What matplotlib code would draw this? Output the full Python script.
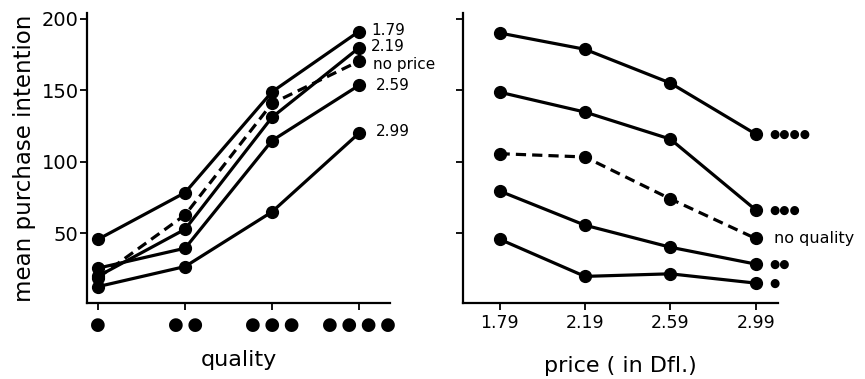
import matplotlib
matplotlib.use('Agg')
import matplotlib.pyplot as plt

# x categories
quality_levels = [1, 2, 3, 4]
quality_ticklabels = ['\u25cf', '\u25cf\u2009\u25cf', '\u25cf\u2009\u25cf\u2009\u25cf',
                      '\u25cf\u2009\u25cf\u2009\u25cf\u2009\u25cf']
price_levels = [1.79, 2.19, 2.59, 2.99]
price_ticklabels = ['1.79', '2.19', '2.59', '2.99']

# left panel: mean purchase intention vs quality, one line per price
price_179 = [45.8, 78.4, 148.8, 191.0]
price_219 = [20.0, 52.8, 131.0, 179.5]
price_none = [19.0, 62.8, 140.7, 170.2]
price_259 = [25.6, 39.5, 114.7, 153.3]
price_299 = [12.7, 26.7, 64.9, 119.8]
price_names = ['1.79', '2.19', 'no price', '2.59', '2.99']

# right panel: mean purchase intention vs price, one line per quality
qual_4 = [190.0, 178.6, 155.0, 119.3]
qual_3 = [148.6, 134.7, 115.8, 66.3]
qual_none = [105.6, 103.3, 74.0, 46.3]
qual_2 = [79.5, 55.6, 40.2, 28.4]
qual_1 = [45.8, 19.8, 21.6, 15.1]
qual_names = ['\u25cf\u25cf\u25cf\u25cf', '\u25cf\u25cf\u25cf', 'no quality', '\u25cf\u25cf', '\u25cf']

yticks = [50, 100, 150, 200]

fig = plt.figure(figsize=(8.65, 3.79), dpi=100)
ax1 = fig.add_axes([0.1006, 0.1998, 0.3503, 0.766])
ax2 = fig.add_axes([0.5356, 0.1998, 0.3642, 0.766])

solid = dict(color='black', lw=2.3, marker='o', ms=8.5, solid_capstyle='round')
dashed = dict(color='black', lw=2.3, marker='o', ms=8.5, ls=(0, (3.2, 1.9)))

left_series = [price_179, price_219, price_none, price_259, price_299]
left_offsets = [(9, 1), (9, 1), (10, -2), (12, 0), (12, 1)]
for vals, name, off in zip(left_series, price_names, left_offsets):
    style = dashed if name == 'no price' else solid
    ax1.plot(quality_levels, vals, **style, clip_on=False)
    ax1.annotate(name, (quality_levels[-1], vals[-1]), xytext=off,
                 textcoords='offset points', va='center', ha='left', fontsize=11,
                 annotation_clip=False)

right_series = [qual_4, qual_3, qual_none, qual_2, qual_1]
for vals, name in zip(right_series, qual_names):
    if name == 'no quality':
        ax2.plot(price_levels, vals, **dashed, clip_on=False)
        ax2.annotate(name, (price_levels[-1], vals[-1]), xytext=(13, 0),
                     textcoords='offset points', va='center', ha='left',
                     fontsize=11.5, annotation_clip=False)
    else:
        ax2.plot(price_levels, vals, **solid, clip_on=False)
        ax2.annotate(name, (price_levels[-1], vals[-1]), xytext=(10, 0),
                     textcoords='offset points', va='center', ha='left',
                     fontsize=8.5, annotation_clip=False)

for ax in (ax1, ax2):
    ax.spines['top'].set_visible(False)
    ax.spines['right'].set_visible(False)
    ax.spines['left'].set_linewidth(1.6)
    ax.spines['bottom'].set_linewidth(1.6)
    ax.set_ylim(1, 204)
    ax.set_yticks(yticks)
    ax.tick_params(width=1.3, length=5, direction='out')

ax1.set_xlim(0.87, 4.36)
ax1.set_xticks(quality_levels)
ax1.set_xticklabels(quality_ticklabels, fontsize=13)
ax1.tick_params(axis='x', pad=4)
ax1.tick_params(axis='y', labelsize=14, pad=1)
ax1.set_xlabel('quality', fontsize=16, labelpad=12)
ax1.set_ylabel('mean purchase intention', fontsize=16.5, labelpad=4)

ax2.set_xlim(1.62, 3.096)
ax2.set_xticks(price_levels)
ax2.set_xticklabels(price_ticklabels, fontsize=12.5)
ax2.set_yticklabels([])
ax2.tick_params(axis='x', pad=3)
ax2.set_xlabel('price ( in Dfl.)', fontsize=16, labelpad=17)

fig.savefig('out.png', dpi=100)
